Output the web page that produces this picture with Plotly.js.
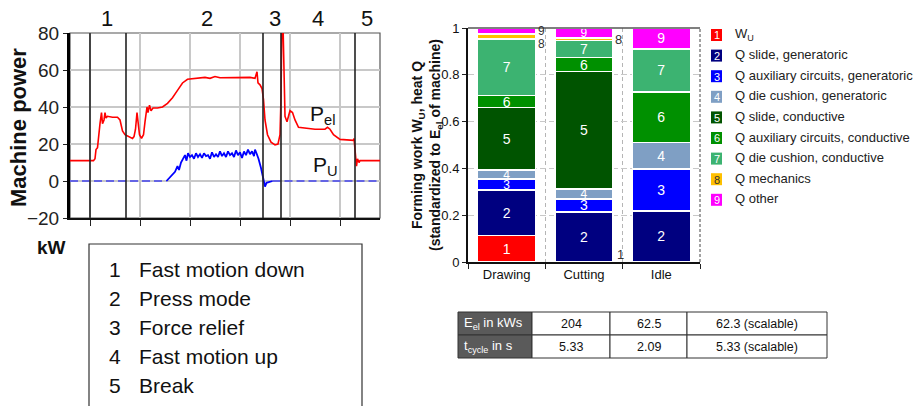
<!DOCTYPE html>
<html><head><meta charset="utf-8">
<script src="https://cdn.plot.ly/plotly-3.0.1.min.js"></script>
<style>html,body{margin:0;padding:0;background:#fff}#chart{width:920px;height:406px}</style>
</head><body><div id="chart"></div>
<script>
// ---------- Left chart data (time in s, power in kW) ----------
const tEl = [-0.4,0.07,0.1,0.12,0.15,0.17,0.2,0.23,0.25,0.28,0.3,0.32,0.35,0.45,0.55,0.6,0.65,0.7,0.78,0.85,0.88,0.91,0.94,0.96,0.99,1.03,1.07,1.1,1.14,1.16,1.19,1.22,1.26,1.35,1.45,1.55,1.65,1.75,1.85,1.95,2.1,2.3,2.4,2.5,2.6,2.8,3.0,3.2,3.3,3.34,3.36,3.4,3.44,3.47,3.5,3.55,3.62,3.7,3.76,3.8,3.82,3.84,3.86,3.88,3.9,3.94,4.0,4.05,4.1,4.17,4.3,4.5,4.7,4.75,4.8,4.87,5.0,5.27,5.28,5.31,5.33,5.35,5.38,5.4,5.8];
const pEl = [11,11,12,17,18,25,31,37,31,33,37,34,35,34.5,34.5,33,27,25,24,23,24,28,37,32,25,23,25,32,40,37,41,38,39.5,39.5,40,42,45,49,53,55,55.5,56,55.5,56.5,55.8,56,55.8,56,55.5,59,53,52,50,44,33,25,21,19.5,20,25,45,90,85,60,35,32,38,37,33,29,28.5,28,28,29,28,25,22.5,22,23,13,8,12,10,11,11];
const tU = [1.53,1.6,1.65,1.7,1.75,1.78,1.82,1.86,1.9,1.93,1.96,2.0,2.04,2.08,2.12,2.16,2.2,2.24,2.28,2.32,2.36,2.4,2.44,2.48,2.52,2.56,2.6,2.64,2.68,2.72,2.76,2.8,2.84,2.88,2.92,2.96,3.0,3.04,3.08,3.12,3.16,3.2,3.24,3.28,3.3,3.33,3.37,3.42,3.46,3.5,3.53,3.58,3.65];
const pU = [0,2,4,5,8,6,10,12,14,11,15,13,14,12,15,13,14.5,12.5,15,13.5,14,12,15.5,13,14.5,13,16,13.5,15,13,16,14,15,13,16.5,14,15.5,12.5,16,14,17,14.5,16,13.5,17,15,12,7,2,-3,-1,-0.5,0];
const tUidle = [-0.4,1.53,null,3.65,5.8];
const pUidle = [0,0,null,0,0];
const phaseBoundaries = [0,0.72,3.46,3.82,5.3];
const phaseNumbers = ['1','2','3','4','5'];
const phaseNames = ['Fast motion down','Press mode','Force relief','Fast motion up','Break'];

// ---------- Right chart data ----------
const categories = ['Drawing','Cutting','Idle'];
const seriesNames = ['W<sub>U</sub>','Q slide, generatoric','Q auxiliary circuits, generatoric','Q die cushion, generatoric','Q slide, conductive','Q auxiliary circuits, conductive','Q die cushion, conductive','Q mechanics','Q other'];
const seriesNums = ['1','2','3','4','5','6','7','8','9'];
const w1 = [0.114,0,0];
const q2 = [0.193,0.214,0.219];
const q3 = [0.047,0.055,0.178];
const q4 = [0.039,0.042,0.114];
const q5 = [0.267,0.503,0];
const q6 = [0.051,0.060,0.215];
const q7 = [0.242,0.073,0.185];
const q8 = [0.021,0.010,0];
const q9 = [0.026,0.043,0.089];
const seriesValues = [w1,q2,q3,q4,q5,q6,q7,q8,q9];
const seriesColors = ['#ff0000','#000080','#0000ff','#7f9fc4','#005400','#009000','#3cb371','#ffc000','#ff00ff'];
const tableRowLabels = ['E<sub>el</sub> in kWs','t<sub>cycle</sub> in s'];
const eEl = ['204','62.5','62.3 (scalable)'];
const tCycle = ['5.33','2.09','5.33 (scalable)'];

// ---------- helpers (layout only) ----------
const W=920,H=406;
const px=x=>x/W, py=y=>1-y/H;
const FONT='Liberation Sans, Arial, sans-serif';

const traces=[];
traces.push({x:tEl,y:pEl,type:'scatter',mode:'lines',line:{color:'#ff0000',width:1.6},xaxis:'x',yaxis:'y',showlegend:false,hoverinfo:'skip'});
traces.push({x:tU,y:pU,type:'scatter',mode:'lines',line:{color:'#0000ff',width:1.8},xaxis:'x',yaxis:'y',showlegend:false,hoverinfo:'skip'});
traces.push({x:tUidle,y:pUidle,type:'scatter',mode:'lines',connectgaps:false,line:{color:'#0000ff',width:1.2,dash:'8px,4px'},xaxis:'x',yaxis:'y',showlegend:false,hoverinfo:'skip'});

// which in-bar labels are shown (small ones are labelled outside)
const hideInside = {'8':[0,1,2],'9':[0],'1':[1,2]};
seriesValues.forEach((vals,i)=>{
  const num=seriesNums[i];
  const txt=vals.map((v,j)=> (v>0 && !(hideInside[num]||[]).includes(j)) ? num : '');
  const sz=vals.map(v=> v<0.05 ? 12 : 14);
  traces.push({type:'bar',x:categories,y:vals,name:seriesNames[i],xaxis:'x2',yaxis:'y2',
    marker:{color:seriesColors[i],line:{color:'#ffffff',width:1.5}},
    text:txt,textposition:'inside',insidetextanchor:'middle',constraintext:'none',textangle:0,
    textfont:{color:'#ffffff',size:sz,family:FONT},showlegend:false,hoverinfo:'skip'});
});

const shapes=[];
const annotations=[];
const A=(o)=>annotations.push(Object.assign({xref:'paper',yref:'paper',showarrow:false,xanchor:'center',yanchor:'middle',font:{family:FONT,color:'#111'}},o));

// left plot border (grey frame)
shapes.push({type:'rect',xref:'x domain',yref:'y domain',x0:0,x1:1,y0:0,y1:1,line:{color:'#555',width:1.2},layer:'below'});
phaseBoundaries.forEach(b=>shapes.push({type:'line',xref:'x',yref:'y domain',x0:b,x1:b,y0:0,y1:1,line:{color:'#222',width:1.6}}));
// phase legend box
shapes.push({type:'rect',xref:'paper',yref:'paper',x0:px(89),x1:px(362),y0:py(412),y1:py(244),line:{color:'#333',width:1.2}});
// bar chart top frame and right dashed edge
shapes.push({type:'line',xref:'x2 domain',yref:'y2 domain',x0:0,x1:1,y0:1,y1:1,line:{color:'#555',width:1.5}});
shapes.push({type:'line',xref:'x2 domain',yref:'y2 domain',x0:1,x1:1,y0:0,y1:1.0,line:{color:'#444',width:1,dash:'3px,2px'}});

// table (drawn from the table arrays)
const colX=[458,532,610,687,827];
const rowY=[312,335,358];
const tableRows=[[tableRowLabels[0],...eEl],[tableRowLabels[1],...tCycle]];
tableRows.forEach((row,r)=>{
  row.forEach((val,c)=>{
    shapes.push({type:'rect',xref:'paper',yref:'paper',x0:px(colX[c]),x1:px(colX[c+1]),y0:py(rowY[r+1]),y1:py(rowY[r]),
      fillcolor:c===0?'#5a5a5a':'#ffffff',line:{color:'#333',width:1}});
    if(c===0) A({x:px(colX[0]+4),y:py((rowY[r]+rowY[r+1])/2),xanchor:'left',text:val,font:{family:FONT,size:13,color:'#ffffff'}});
    else A({x:px((colX[c]+colX[c+1])/2),y:py((rowY[r]+rowY[r+1])/2),text:val,font:{family:FONT,size:12.5,color:'#111'}});
  });
});

A({x:px(18),y:py(128),text:'<b>Machine power</b>',textangle:-90,font:{family:FONT,size:22,color:'#111'}});
A({x:px(51),y:py(247),text:'<b>kW</b>',font:{family:FONT,size:19,color:'#111'}});
const phaseLabelX=[107,207,275,318,367];
phaseNumbers.forEach((n,i)=>A({x:px(phaseLabelX[i]),y:py(18),text:n,font:{family:FONT,size:22,color:'#111'}}));
A({x:px(308),y:py(115),xanchor:'left',text:'P<sub>el</sub>',font:{family:FONT,size:21,color:'#111'}});
A({x:px(311),y:py(166),xanchor:'left',text:'P<sub>U</sub>',font:{family:FONT,size:21,color:'#111'}});
phaseNames.forEach((nm,i)=>{
  const yy=269+i*29;
  A({x:px(107),y:py(yy),xanchor:'left',text:phaseNumbers[i],font:{family:FONT,size:21,color:'#111'}});
  A({x:px(137),y:py(yy),xanchor:'left',text:nm,font:{family:FONT,size:21,color:'#111'}});
});
// bar chart y title
A({x:px(427),y:py(145),text:'<b>Forming work W<sub>U</sub>, heat Q<br>(standardized to E<sub>el</sub> of machine)</b>',textangle:-90,font:{family:FONT,size:14,color:'#111'}});
// outside labels for small segments
A({x:px(541),y:py(31),text:'9',font:{family:FONT,size:12,color:'#333'}});
A({x:px(541),y:py(44),text:'8',font:{family:FONT,size:12,color:'#333'}});
A({x:px(618),y:py(40),text:'8',font:{family:FONT,size:13,color:'#333'}});
A({x:px(620),y:py(254),text:'1',font:{family:FONT,size:13,color:'#333'}});
// custom legend
seriesNames.forEach((nm,i)=>{
  const yc=35+i*20.6;
  shapes.push({type:'rect',xref:'paper',yref:'paper',x0:px(711),x1:px(722),y0:py(yc+6),y1:py(yc-6),fillcolor:seriesColors[i],line:{width:0}});
  A({x:px(716.5),y:py(yc+0.5),text:seriesNums[i],font:{family:FONT,size:11,color:i===7?'#333':'#ffffff'}});
  A({x:px(733),y:py(yc-1),xanchor:'left',text:nm,font:{family:FONT,size:13,color:'#222'}});
});

const layout={
  width:W,height:H,margin:{l:0,r:0,t:0,b:0},paper_bgcolor:'#fff',plot_bgcolor:'#fff',
  font:{family:FONT},showlegend:false,barmode:'stack',bargap:0.25,
  xaxis:{domain:[px(70),px(380)],range:[-0.4,5.8],tickvals:[0,1,2,3,4,5],showticklabels:false,ticks:'outside',ticklen:6,tickcolor:'#222',
    showgrid:true,gridcolor:'#c8c8c8',gridwidth:1.5,zeroline:false,showline:true,linecolor:'#111',linewidth:1.5,fixedrange:true},
  yaxis:{domain:[py(218),py(33)],range:[-20,80],tickvals:[-20,0,20,40,60,80],ticks:'outside',ticklen:4,tickcolor:'#222',
    tickfont:{size:19,color:'#222',family:FONT},showgrid:true,gridcolor:'#c8c8c8',gridwidth:1.5,zeroline:false,showline:true,linecolor:'#000',linewidth:3,fixedrange:true},
  xaxis2:{domain:[px(468),px(700)],anchor:'y2',type:'category',range:[-0.5,2.5],tickson:'boundaries',ticks:'outside',ticklen:5,tickcolor:'#222',
    tickfont:{size:13,color:'#111',family:FONT},showgrid:true,gridcolor:'#b5b5b5',griddash:'4px,3px',showline:true,linecolor:'#111',linewidth:1.5,fixedrange:true},
  yaxis2:{domain:[py(262),py(28)],anchor:'x2',range:[0,1],tickvals:[0,0.2,0.4,0.6,0.8,1],ticktext:['0','0.2','0.4','0.6','0.8','1'],ticks:'outside',ticklen:4,tickcolor:'#222',
    tickfont:{size:13,color:'#111',family:FONT},showgrid:true,gridcolor:'#c8c8c8',griddash:'6px,3px',zeroline:false,showline:true,linecolor:'#111',linewidth:2,fixedrange:true},
  shapes:shapes,annotations:annotations
};
Plotly.newPlot('chart',traces,layout,{staticPlot:true,displayModeBar:false});
</script></body></html>
